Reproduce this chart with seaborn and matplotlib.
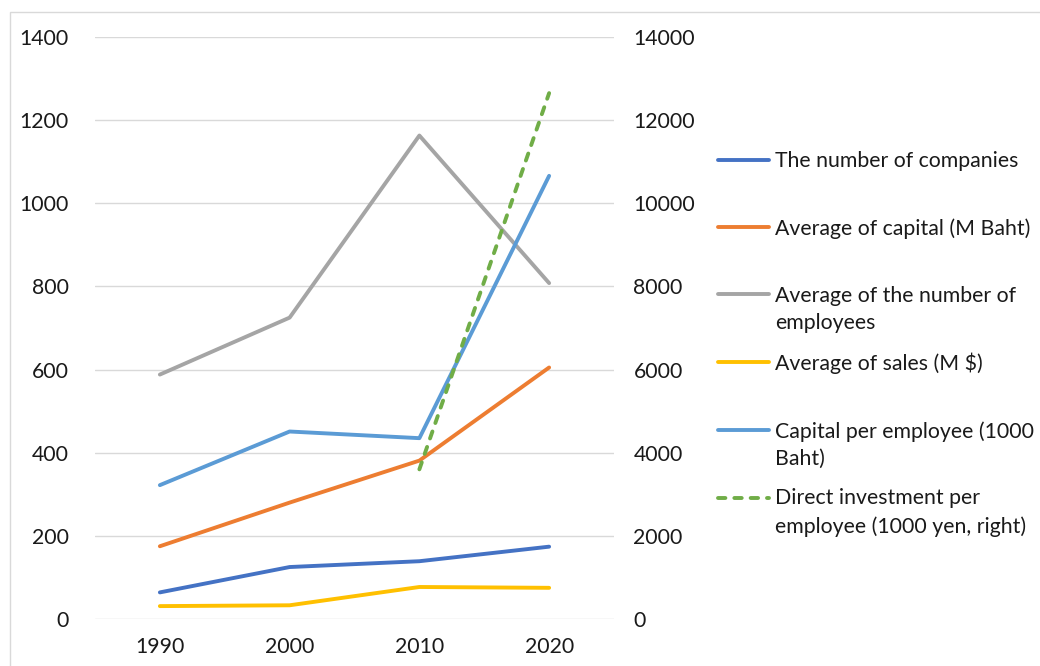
import matplotlib
matplotlib.use("Agg")
import matplotlib.pyplot as plt
import matplotlib.patches as mpatches
import numpy as np
import pandas as pd
import seaborn as sns

# Survey years
years = [1990, 2000, 2010, 2020]

# Left-axis series
companies = [64, 125, 139, 174]
avg_capital = [175, 280, 381, 605]
avg_employees = [588, 725, 1163, 808]
avg_sales = [31, 33, 77, 75]
capital_per_employee = [322, 451, 435, 1066]

# Right-axis series (only available for the last two years)
direct_investment = [np.nan, np.nan, 3600, 12650]

left_labels = [
    "The number of companies",
    "Average of capital (M Baht)",
    "Average of the number of\nemployees",
    "Average of sales (M $)",
    "Capital per employee (1000\nBaht)",
]
right_label = "Direct investment per\nemployee (1000 yen, right)"

left_ticks = [0, 200, 400, 600, 800, 1000, 1200, 1400]
right_ticks = [0, 2000, 4000, 6000, 8000, 10000, 12000, 14000]

colors = ["#4472C4", "#ED7D31", "#A5A5A5", "#FFC000", "#5B9BD5"]
green = "#70AD47"
text_color = "#1a1a1a"
fs = 15.3
line_sp = 1.45

sns.set_theme(style="white")
plt.rcParams["font.family"] = ["Lato", "DejaVu Sans"]

fig = plt.figure(figsize=(10.4, 6.66), dpi=100)
ax = fig.add_axes([95 / 1040, 47 / 666, 519 / 1040, 582 / 666])
ax2 = ax.twinx()

left_series = [companies, avg_capital, avg_employees, avg_sales, capital_per_employee]
handles = []
for vals, lab, col in zip(left_series, left_labels, colors):
    df = pd.DataFrame({"year": years, "value": vals})
    sns.lineplot(data=df, x="year", y="value", ax=ax, color=col, linewidth=2.8,
                 label=lab, legend=False, solid_capstyle="round",
                 solid_joinstyle="round")
    handles.append(ax.lines[-1])

df_di = pd.DataFrame({"year": years, "value": direct_investment})
sns.lineplot(data=df_di, x="year", y="value", ax=ax2, color=green, linewidth=2.8,
             linestyle=(0, (1.9, 2.3)), dash_capstyle="round",
             label=right_label, legend=False)
handles.append(ax2.lines[-1])

ax.set_xlim(1985, 2025)
ax.set_ylim(0, 1400)
ax2.set_ylim(0, 14000)
ax.set_xticks(years)
ax.set_xticklabels([str(y) for y in years])
ax.set_yticks(left_ticks)
ax.set_yticklabels([str(t) for t in left_ticks])
ax2.set_yticks(right_ticks)
ax2.set_yticklabels([str(t) for t in right_ticks])
ax.set_xlabel("")
ax.set_ylabel("")
ax2.set_ylabel("")

ax.grid(axis="y", color="#D9D9D9", linewidth=1.0)
ax.set_axisbelow(True)
for a in (ax, ax2):
    for s in a.spines.values():
        s.set_visible(False)
ax.tick_params(axis="y", length=0, pad=19, labelsize=fs, labelcolor=text_color)
ax.tick_params(axis="x", length=0, pad=13, labelsize=fs, labelcolor=text_color)
ax2.tick_params(axis="y", length=0, pad=14, labelsize=fs, labelcolor=text_color)

# Every legend entry gets two text rows so the entries sit on an even pitch,
# with the key line beside the first row.
legend_texts = []
for h in handles:
    lab = h.get_label()
    legend_texts.append(lab if "\n" in lab else lab + "\n ")

leg = fig.legend(handles=handles, labels=legend_texts,
                 loc="upper left", bbox_to_anchor=(718 / 1040, 1 - 151 / 666),
                 frameon=False, fontsize=fs, handlelength=2.4, handletextpad=0.27,
                 labelspacing=0.93, borderpad=0, borderaxespad=0)
for t in leg.get_texts():
    t.set_color(text_color)
    t.set_linespacing(line_sp)
half_row = fs * line_sp / 2
for lh in leg.legend_handles:
    yd = np.asarray(lh.get_ydata(), dtype=float)
    lh.set_ydata(yd + half_row)

# Thin outer frame of the chart area
fig.patches.append(mpatches.Rectangle((10 / 1040, -0.05), 1.2, 1 - 12 / 666 + 0.05,
                                      transform=fig.transFigure, fill=False,
                                      edgecolor="#D9D9D9", linewidth=1.0))

fig.savefig("out.png", dpi=100)
